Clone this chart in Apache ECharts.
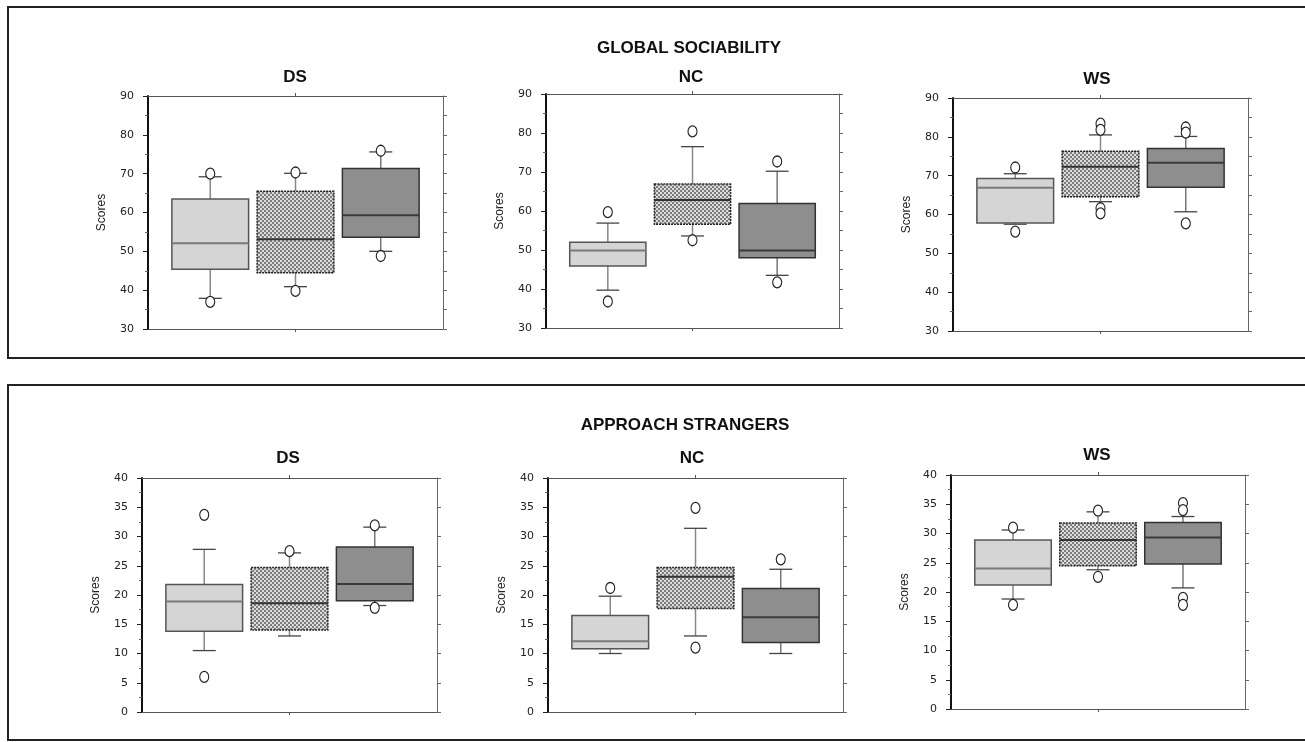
<!DOCTYPE html>
<html>
<head>
<meta charset="utf-8">
<title>Global sociability / Approach strangers</title>
<script src="https://cdn.jsdelivr.net/npm/echarts@6/dist/echarts.min.js"></script>
<style>
html, body { margin: 0; padding: 0; background: #fff; }
#main { width: 1305px; height: 742px; }
</style>
</head>
<body>
<div id="main"></div>
<script>
// panel names and section headings
var groups = ['DS', 'NC', 'WS'];
var sections = ['GLOBAL SOCIABILITY', 'APPROACH STRANGERS'];

// each box: [low whisker, Q1, median, Q3, high whisker], boxes left->right
var socDS = [[37.9, 45.4, 52.1, 63.5, 69.2], [40.9, 44.5, 53.1, 65.5, 70.1], [50.0, 53.6, 59.3, 71.3, 75.6]];
var socNC = [[39.7, 45.9, 49.9, 52.0, 56.9], [53.6, 56.6, 62.8, 66.9, 76.5], [43.5, 48.0, 49.9, 61.9, 70.2]];
var socWS = [[57.5, 57.8, 66.9, 69.3, 70.5], [63.3, 64.6, 72.3, 76.3, 80.5], [60.7, 67.0, 73.3, 77.0, 80.1]];
var strDS = [[10.5, 13.8, 18.9, 21.8, 27.8], [13.0, 14.0, 18.6, 24.7, 27.2], [18.2, 19.0, 21.9, 28.2, 31.6]];
var strNC = [[10.0, 10.8, 12.1, 16.5, 19.8], [13.0, 17.7, 23.1, 24.7, 31.4], [10.0, 11.9, 16.2, 21.1, 24.4]];
var strWS = [[18.8, 21.2, 24.0, 28.9, 30.6], [23.8, 24.5, 28.9, 31.8, 33.7], [20.7, 24.8, 29.3, 31.9, 32.9]];

// outliers: [box index, value]
var socDSOut = [[0, 70.0], [0, 37.0], [1, 70.3], [1, 39.8], [2, 75.9], [2, 48.8]];
var socNCOut = [[0, 59.7], [0, 36.8], [1, 80.4], [1, 52.5], [2, 72.7], [2, 41.7]];
var socWSOut = [[0, 72.1], [0, 55.6], [1, 83.4], [1, 81.8], [1, 61.6], [1, 60.3], [2, 82.4], [2, 81.1], [2, 57.7]];
var strDSOut = [[0, 33.7], [0, 6.0], [1, 27.5], [2, 31.9], [2, 17.8]];
var strNCOut = [[0, 21.2], [1, 34.9], [1, 11.0], [2, 26.1]];
var strWSOut = [[0, 31.0], [0, 17.8], [1, 33.9], [1, 22.6], [2, 35.2], [2, 34.0], [2, 19.0], [2, 17.8]];

// y tick labels
var socTicks = [30, 40, 50, 60, 70, 80, 90];
var strTicks = [0, 5, 10, 15, 20, 25, 30, 35, 40];

// where the six plots sit (px)
var panels = [
	{ name: groups[0], box: socDS, out: socDSOut, ticks: socTicks, left: 148, top: 96, width: 295, height: 233, tx: 295, ty: 77 },
	{ name: groups[1], box: socNC, out: socNCOut, ticks: socTicks, left: 546, top: 94, width: 293, height: 234, tx: 691, ty: 77 },
	{ name: groups[2], box: socWS, out: socWSOut, ticks: socTicks, left: 953, top: 98, width: 295, height: 233, tx: 1097, ty: 79 },
	{ name: groups[0], box: strDS, out: strDSOut, ticks: strTicks, left: 142, top: 478, width: 295, height: 234, tx: 288, ty: 458 },
	{ name: groups[1], box: strNC, out: strNCOut, ticks: strTicks, left: 548, top: 478, width: 295, height: 234, tx: 692, ty: 458 },
	{ name: groups[2], box: strWS, out: strWSOut, ticks: strTicks, left: 951, top: 475, width: 294, height: 234, tx: 1097, ty: 455 }
];

var font = 'Liberation Sans, Arial, sans-serif';

// dotted fill of the middle box
function dotPattern() {
	var c = document.createElement('canvas');
	c.width = 4; c.height = 4;
	var ctx = c.getContext('2d');
	ctx.fillStyle = '#7c7c7c';
	ctx.fillRect(0, 0, 4, 4);
	ctx.fillStyle = '#dcdcdc';
	ctx.fillRect(0, 0, 2, 2);
	ctx.fillRect(2, 2, 2, 2);
	return c;
}

var boxLook = [
	{ fill: '#d5d5d5', border: '#555', median: '#7a7a7a', whisker: '#888', dash: null },
	{ fill: { image: dotPattern(), repeat: 'repeat' }, border: '#222', median: '#333', whisker: '#888', dash: [2, 1] },
	{ fill: '#8e8e8e', border: '#333', median: '#3a3a3a', whisker: '#777', dash: null }
];

function renderBox(params, api) {
	var i = api.value(0);
	var lo = api.coord([i, api.value(1)]),
		q1 = api.coord([i, api.value(2)]),
		med = api.coord([i, api.value(3)]),
		q3 = api.coord([i, api.value(4)]),
		hi = api.coord([i, api.value(5)]);
	var w = api.size([0.9, 0])[0];
	var cap = w * 0.15;
	var x = lo[0];
	var st = boxLook[i];
	return {
		type: 'group',
		children: [
			{ type: 'line', shape: { x1: x, y1: hi[1], x2: x, y2: q3[1] }, style: { stroke: st.whisker, lineWidth: 1.5 } },
			{ type: 'line', shape: { x1: x, y1: q1[1], x2: x, y2: lo[1] }, style: { stroke: st.whisker, lineWidth: 1.5 } },
			{ type: 'line', shape: { x1: x - cap, y1: hi[1], x2: x + cap, y2: hi[1] }, style: { stroke: '#444', lineWidth: 1.3 } },
			{ type: 'line', shape: { x1: x - cap, y1: lo[1], x2: x + cap, y2: lo[1] }, style: { stroke: '#444', lineWidth: 1.3 } },
			{ type: 'rect', shape: { x: x - w / 2, y: q3[1], width: w, height: q1[1] - q3[1] },
				style: { fill: st.fill, stroke: st.border, lineWidth: 1.5, lineDash: st.dash } },
			{ type: 'line', shape: { x1: x - w / 2, y1: med[1], x2: x + w / 2, y2: med[1] }, style: { stroke: st.median, lineWidth: 2 } }
		]
	};
}

var grid = [], xAxis = [], yAxis = [], series = [], graphic = [];

// the two outer frames
graphic.push({ type: 'rect', shape: { x: 8, y: 7, width: 1310, height: 351 }, style: { fill: null, stroke: '#222', lineWidth: 2 } });
graphic.push({ type: 'rect', shape: { x: 8, y: 385, width: 1310, height: 355 }, style: { fill: null, stroke: '#222', lineWidth: 2 } });
graphic.push({ type: 'text', x: 689, y: 48, style: { text: sections[0], font: 'bold 17px ' + font, fill: '#111', textAlign: 'center', textVerticalAlign: 'middle' } });
graphic.push({ type: 'text', x: 685, y: 425, style: { text: sections[1], font: 'bold 17px ' + font, fill: '#111', textAlign: 'center', textVerticalAlign: 'middle' } });

panels.forEach(function (p, k) {
	var min = p.ticks[0], max = p.ticks[p.ticks.length - 1], step = p.ticks[1] - p.ticks[0];
	grid.push({ left: p.left, top: p.top, width: p.width, height: p.height });

	graphic.push({ type: 'text', x: p.tx, y: p.ty, style: { text: p.name, font: 'bold 17px ' + font, fill: '#111', textAlign: 'center', textVerticalAlign: 'middle' } });

	var xBase = { type: 'value', gridIndex: k, min: -0.73, max: 2.73,
		axisLine: { show: true, onZero: false, lineStyle: { color: '#555', width: 1 } },
		axisTick: { show: true, customValues: [1], length: 3, lineStyle: { color: '#555' } },
		axisLabel: { show: false }, splitLine: { show: false } };
	xAxis.push(Object.assign({ position: 'bottom' }, xBase));
	xAxis.push(Object.assign({ position: 'top' }, xBase));

	yAxis.push({ type: 'value', gridIndex: k, position: 'left', min: min, max: max, interval: step,
		name: 'Scores', nameLocation: 'middle', nameGap: 40,
		nameTextStyle: { fontFamily: font, fontSize: 12, color: '#222' },
		axisLine: { show: true, onZero: false, lineStyle: { color: '#111', width: 2 } },
		axisTick: { show: true, length: 5, lineStyle: { color: '#222' } },
		minorTick: { show: true, splitNumber: 2, length: 3, lineStyle: { color: '#666' } },
		axisLabel: { fontFamily: 'DejaVu Sans, sans-serif', fontSize: 11, color: '#222', margin: 14 },
		splitLine: { show: false } });
	yAxis.push({ type: 'value', gridIndex: k, position: 'right', min: min, max: max, interval: 5,
		axisLine: { show: true, onZero: false, lineStyle: { color: '#666', width: 1 } },
		axisTick: { show: true, length: 4, lineStyle: { color: '#666' } },
		axisLabel: { show: false }, splitLine: { show: false } });

	series.push({
		type: 'custom',
		xAxisIndex: k * 2, yAxisIndex: k * 2,
		renderItem: renderBox,
		encode: { x: 0, y: [1, 2, 3, 4, 5] },
		data: p.box.map(function (b, i) { return [i].concat(b); }),
		z: 2
	});
	series.push({
		type: 'scatter',
		xAxisIndex: k * 2, yAxisIndex: k * 2,
		symbol: 'circle', symbolSize: [9, 11],
		itemStyle: { color: '#fff', borderColor: '#222', borderWidth: 1.2, opacity: 1 },
		data: p.out,
		z: 3
	});
});

var myChart = echarts.init(document.getElementById('main'));
myChart.setOption({
	animation: false,
	backgroundColor: '#fff',
	grid: grid,
	xAxis: xAxis,
	yAxis: yAxis,
	series: series,
	graphic: graphic
});
</script>
</body>
</html>
